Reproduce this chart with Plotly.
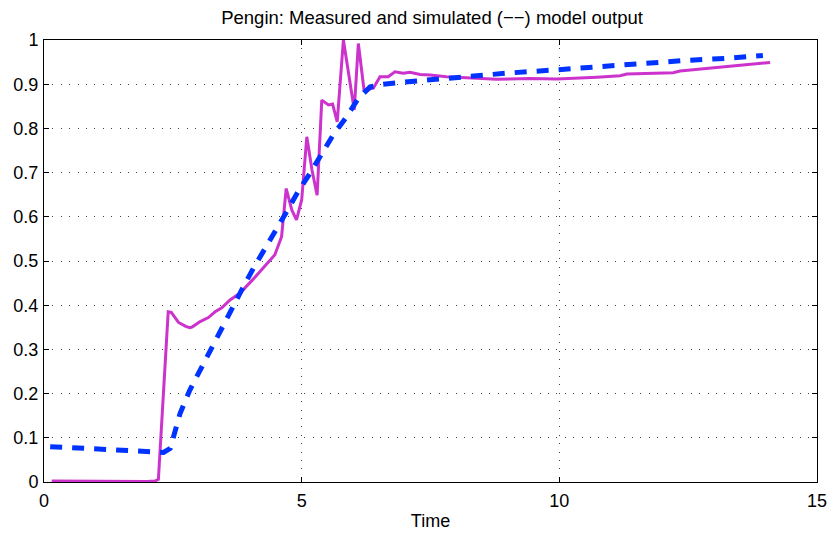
import plotly.graph_objects as go

# Measured output
t_meas = [0.15, 1.0, 2.0, 2.15, 2.22, 2.41, 2.47, 2.61, 2.75, 2.83, 2.88, 3.03, 3.19, 3.32, 3.45,
          3.61, 3.80, 4.06, 4.26, 4.48, 4.61, 4.70, 4.81, 4.90, 5.00, 5.10, 5.20, 5.30, 5.39,
          5.52, 5.60, 5.69, 5.81, 5.91, 6.02, 6.10, 6.21, 6.39, 6.52, 6.68, 6.81, 6.97, 7.10,
          7.30, 7.49, 7.81, 8.14, 8.78, 9.43, 9.95, 10.73, 11.18, 11.31, 12.21, 12.34, 12.73,
          12.99, 13.51, 13.83, 14.09]
y_meas = [0.002, 0.001, 0.001, 0.002, 0.006, 0.385, 0.384, 0.361, 0.352, 0.349, 0.351, 0.363,
          0.372, 0.385, 0.394, 0.412, 0.427, 0.459, 0.485, 0.514, 0.555, 0.664, 0.615, 0.593,
          0.638, 0.781, 0.706, 0.649, 0.864, 0.853, 0.855, 0.815, 1.0, 0.925, 0.842, 0.992,
          0.887, 0.891, 0.917, 0.917, 0.928, 0.925, 0.927, 0.922, 0.921, 0.917, 0.915, 0.911,
          0.913, 0.912, 0.916, 0.919, 0.923, 0.926, 0.930, 0.934, 0.937, 0.943, 0.945, 0.949]

# Simulated output
t_sim = [0.12, 1.0, 1.90, 2.32, 2.45, 2.54, 2.64, 2.83, 3.03, 3.22, 3.42, 3.61, 3.87, 4.06,
         4.26, 4.48, 4.71, 4.93, 5.16, 5.39, 5.61, 5.87, 6.10, 6.33, 6.58, 6.91, 7.30, 8.14,
         8.98, 9.88, 10.73, 11.63, 12.47, 13.31, 13.95]
y_sim = [0.080, 0.075, 0.069, 0.067, 0.076, 0.110, 0.155, 0.208, 0.253, 0.299, 0.344, 0.389,
         0.442, 0.483, 0.521, 0.566, 0.612, 0.657, 0.698, 0.740, 0.785, 0.826, 0.868, 0.894,
         0.900, 0.904, 0.908, 0.917, 0.925, 0.932, 0.940, 0.947, 0.954, 0.959, 0.965]

x_ticks = [0, 5, 10, 15]
y_ticks = [0, 0.1, 0.2, 0.3, 0.4, 0.5, 0.6, 0.7, 0.8, 0.9, 1]
y_tick_text = ["0", "0.1", "0.2", "0.3", "0.4", "0.5", "0.6", "0.7", "0.8", "0.9", "1"]

fig = go.Figure()
fig.add_trace(go.Scatter(x=t_meas, y=y_meas, mode="lines",
                         line=dict(color="#CC33CC", width=3), showlegend=False))
fig.add_trace(go.Scatter(x=t_sim, y=y_sim, mode="lines",
                         line=dict(color="#0033FF", width=5, dash="12px,10px"), showlegend=False))

font = dict(family="Liberation Sans, Arial, Helvetica, sans-serif", size=18, color="black")
axis_common = dict(showline=True, linecolor="black", linewidth=1, mirror="ticks",
                   ticks="inside", ticklen=5, tickcolor="black",
                   showgrid=True, gridcolor="#444444", griddash="1px,7.4px", gridwidth=1,
                   zeroline=False, tickfont=font, automargin=False)

fig.update_layout(
    width=834, height=533,
    margin=dict(l=44, r=17, t=40, b=51),
    paper_bgcolor="white", plot_bgcolor="white",
    font=font,
    title=dict(text="Pengin: Measured and simulated (−−) model output",
               xref="paper", x=0.502, xanchor="center", y=0.968, yanchor="middle",
               font=dict(family="Liberation Sans, Arial, sans-serif", size=18.5, color="black")),
    xaxis=dict(range=[0, 15], tickvals=x_ticks, ticktext=[str(v) for v in x_ticks],
               ticklabelstandoff=2,
               title=dict(text="Time", standoff=4, font=font), **axis_common),
    yaxis=dict(range=[0, 1], tickvals=y_ticks, ticktext=y_tick_text,
               ticklabelstandoff=1, **axis_common),
)

fig.write_html("out.html")
